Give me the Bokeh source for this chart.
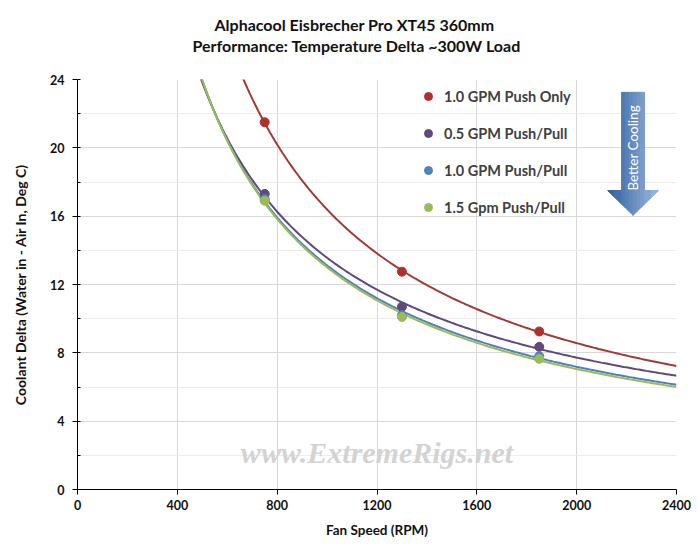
import numpy as np
from bokeh.plotting import figure
from bokeh.embed import file_html
from bokeh.resources import INLINE
from bokeh.models import (Range1d, SingleIntervalTicker, Title, Label,
                          Legend, LegendItem)

# Data (fan speed in RPM, coolant delta in deg C)
rpm = [750, 1300, 1850]
push_only_10gpm = [21.5, 12.75, 9.25]
push_pull_05gpm = [17.3, 10.7, 8.35]
push_pull_10gpm = [17.0, 10.2, 7.8]
push_pull_15gpm = [16.9, 10.1, 7.65]

series_names = ["1.0 GPM Push Only", "0.5 GPM Push/Pull",
                "1.0 GPM Push/Pull", "1.5 Gpm Push/Pull"]
x_ticks = [0, 400, 800, 1200, 1600, 2000, 2400]
y_ticks = [0, 4, 8, 12, 16, 20, 24]

FONT = "Lato"
line_colors = ["#9e3a38", "#5f497a", "#4f81bd", "#9bbb59"]
dot_colors = ["#b0302c", "#5f497a", "#4f81bd", "#9bbb59"]

p = figure(
    width=691, height=540,
    x_range=Range1d(x_ticks[0], x_ticks[-1]),
    y_range=Range1d(y_ticks[0], y_ticks[-1]),
    output_backend="svg", toolbar_location=None,
    min_border_left=77, min_border_right=15,
    min_border_top=79, min_border_bottom=50,
    x_axis_label="Fan Speed (RPM)",
    y_axis_label="Coolant Delta (Water in - Air In, Deg C)",
)
p.outline_line_color = None

# Title: an empty spacer next to the frame, then the two lines
p.add_layout(Title(text=" ", text_font_size="10px", standoff=12), "above")
p.add_layout(Title(text="Performance: Temperature Delta ~300W Load",
                   text_font=FONT, text_font_size="16px",
                   text_font_style="bold", text_color="#111111",
                   align="left", offset=115, standoff=0), "above")
p.add_layout(Title(text="Alphacool  Eisbrecher Pro XT45 360mm",
                   text_font=FONT, text_font_size="16px",
                   text_font_style="bold", text_color="#111111",
                   align="left", offset=137, standoff=0), "above")

# Axes
p.xaxis.ticker = SingleIntervalTicker(interval=400, num_minor_ticks=0)
p.yaxis.ticker = SingleIntervalTicker(interval=4, num_minor_ticks=2)
for ax in (p.xaxis, p.yaxis):
    ax.axis_line_color = "black"
    ax.major_tick_line_color = "black"
    ax.minor_tick_line_color = "black"
    ax.major_tick_in = 0
    ax.major_tick_out = 5
    ax.minor_tick_in = 3
    ax.minor_tick_out = 0
    ax.major_label_text_font = FONT
    ax.major_label_text_font_style = "bold"
    ax.major_label_text_font_size = "12.5px"
    ax.major_label_text_color = "#111111"
    ax.axis_label_text_font = FONT
    ax.axis_label_text_font_style = "bold"
    ax.axis_label_text_color = "#111111"
p.xaxis.axis_label_text_font_size = "13.5px"
p.yaxis.axis_label_text_font_size = "14px"
p.xaxis.major_label_standoff = 5
p.xaxis.axis_label_standoff = 9
p.yaxis.major_label_standoff = 8
p.yaxis.axis_label_standoff = 18

p.xgrid.grid_line_color = "#d9d9d9"
p.ygrid.grid_line_color = "#d9d9d9"
p.ygrid.minor_grid_line_color = "#ececec"

# Watermark
p.add_layout(Label(x=1200, y=2.15, text="www.ExtremeRigs.net",
                   text_font="Liberation Serif", text_font_size="30px",
                   text_font_style="bold italic", text_color="#d3d3d3",
                   text_align="center", text_baseline="middle",
                   level="underlay"))

# Power trendlines (like Excel) fitted to each series
all_series = [push_only_10gpm, push_pull_05gpm, push_pull_10gpm, push_pull_15gpm]
curve_x = np.linspace(400, 2400, 200)
for vals, color in zip(all_series, line_colors):
    slope, icept = np.polyfit(np.log(rpm), np.log(vals), 1)
    p.line(curve_x, np.exp(icept) * curve_x ** slope,
           line_color=color, line_width=2)

items = []
for name, vals, color in zip(series_names, all_series, dot_colors):
    r = p.scatter(rpm, vals, size=9, fill_color=color, line_color=color)
    items.append(LegendItem(label=name, renderers=[r]))

legend = Legend(items=items, location=(341, 272),
                border_line_color=None, background_fill_alpha=0,
                label_text_font=FONT, label_text_font_style="bold",
                label_text_font_size="14.5px", label_text_color="#404040",
                glyph_width=20, glyph_height=20, label_height=20,
                spacing=17, padding=5, margin=0, label_standoff=6)
p.add_layout(legend)

# "Better Cooling" arrow, striped to fake the gradient
hl, xl, xc, xr, hr = 2124, 2180, 2226, 2272, 2328
yt, yn, ytip = 23.25, 17.5, 16.05


def y_low(x):
    if x <= xc:
        return yn + (ytip - yn) * (x - hl) / (xc - hl)
    return yn + (ytip - yn) * (hr - x) / (hr - xc)


edges = list(np.linspace(hl, xl, 3)) + list(np.linspace(xl, xc, 4))[1:] \
    + list(np.linspace(xc, xr, 4))[1:] + list(np.linspace(xr, hr, 3))[1:]
dark = np.array([0x2e, 0x5e, 0x9e])
light = np.array([0x9d, 0xb9, 0xdf])
xs, ys, cols = [], [], []
for a, b in zip(edges[:-1], edges[1:]):
    top = yt if (a >= xl - 0.1 and b <= xr + 0.1) else yn
    xs.append([a, b, b, a])
    ys.append([top, top, y_low(b), y_low(a)])
    f = ((a + b) / 2 - hl) / (hr - hl)
    c = (dark + (light - dark) * f).astype(int)
    cols.append("#%02x%02x%02x" % tuple(c))
p.patches(xs, ys, fill_color=cols, line_color=cols, line_width=1)
p.add_layout(Label(x=xc, y=20.0, text="Better Cooling", angle=np.pi / 2,
                   text_font=FONT, text_font_size="13.5px", text_color="white",
                   text_align="center", text_baseline="middle"))

open("out.html", "w").write(file_html(p, INLINE))
